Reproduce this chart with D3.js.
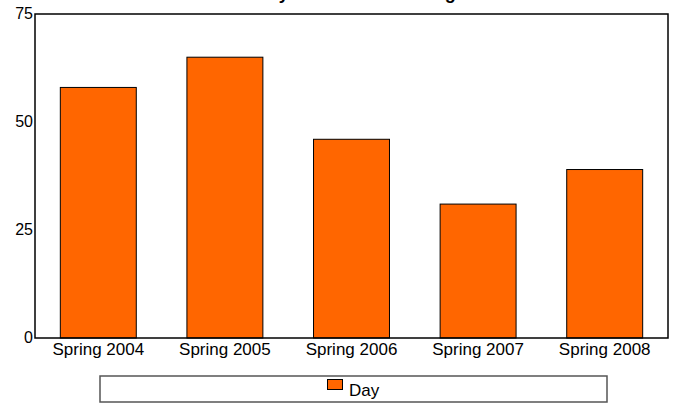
<!DOCTYPE html>
<html><head><meta charset="utf-8">
<script src="https://cdn.jsdelivr.net/npm/d3@7"></script>
<style>
body{margin:0;background:#fff;}
text{font-family:"Liberation Sans",Arial,sans-serif;fill:#000;}
</style></head>
<body>
<svg id="chart" width="678" height="406"></svg>
<script>
const categories = ["Spring 2004","Spring 2005","Spring 2006","Spring 2007","Spring 2008"];
const dayValues = [58, 65, 46, 31, 39];
const yTicks = [0, 25, 50, 75];
const seriesName = "Day";
const titleText = "Weekly Attendance Averages";

const svg = d3.select("#chart");
const m = {left:35, right:668, top:14, bottom:338};

const x = d3.scaleBand().domain(categories).range([m.left, m.right]).paddingInner(0.4).paddingOuter(0.2);
const y = d3.scaleLinear().domain([0, 75]).range([m.bottom, m.top]);

svg.append("text").attr("x", (m.left+m.right)/2).attr("y", -1.5)
  .attr("text-anchor","middle").style("font-size","18px").style("font-weight","bold").text(titleText);

svg.selectAll("rect.bar").data(dayValues).enter().append("rect")
  .attr("class","bar")
  .attr("x", (d,i)=>x(categories[i]))
  .attr("width", x.bandwidth())
  .attr("y", d=>y(d))
  .attr("height", d=>y(0)-y(d))
  .attr("fill","#FF6600").attr("stroke","#000").attr("stroke-width",1);

svg.append("rect").attr("x",m.left).attr("y",m.top)
  .attr("width",m.right-m.left).attr("height",m.bottom-m.top)
  .attr("fill","none").attr("stroke","#000").attr("stroke-width",1.5);

const yAxis = svg.append("g").attr("transform",`translate(${m.left},0)`)
  .call(d3.axisLeft(y).tickValues(yTicks).tickSize(0).tickPadding(2));
yAxis.select(".domain").remove();
yAxis.selectAll("text").style("font-size","16px").attr("dy","0.28em")
  .style("font-family",'"Liberation Sans",Arial,sans-serif').attr("fill","#000");

const xAxis = svg.append("g").attr("transform",`translate(0,${m.bottom})`)
  .call(d3.axisBottom(x).tickSize(0).tickPadding(5));
xAxis.select(".domain").remove();
xAxis.selectAll("text").style("font-size","17px")
  .style("font-family",'"Liberation Sans",Arial,sans-serif').attr("fill","#000");

// legend
const lg = svg.append("g");
lg.append("rect").attr("x",100).attr("y",376).attr("width",507).attr("height",26)
  .attr("fill","#fff").attr("stroke","#555").attr("stroke-width",1.5);
lg.append("rect").attr("x",327.5).attr("y",379.5).attr("width",15).attr("height",10)
  .attr("fill","#FF6600").attr("stroke","#000").attr("stroke-width",1);
lg.append("text").attr("x",349).attr("y",396).style("font-size","17px").text(seriesName);
</script>
</body></html>
